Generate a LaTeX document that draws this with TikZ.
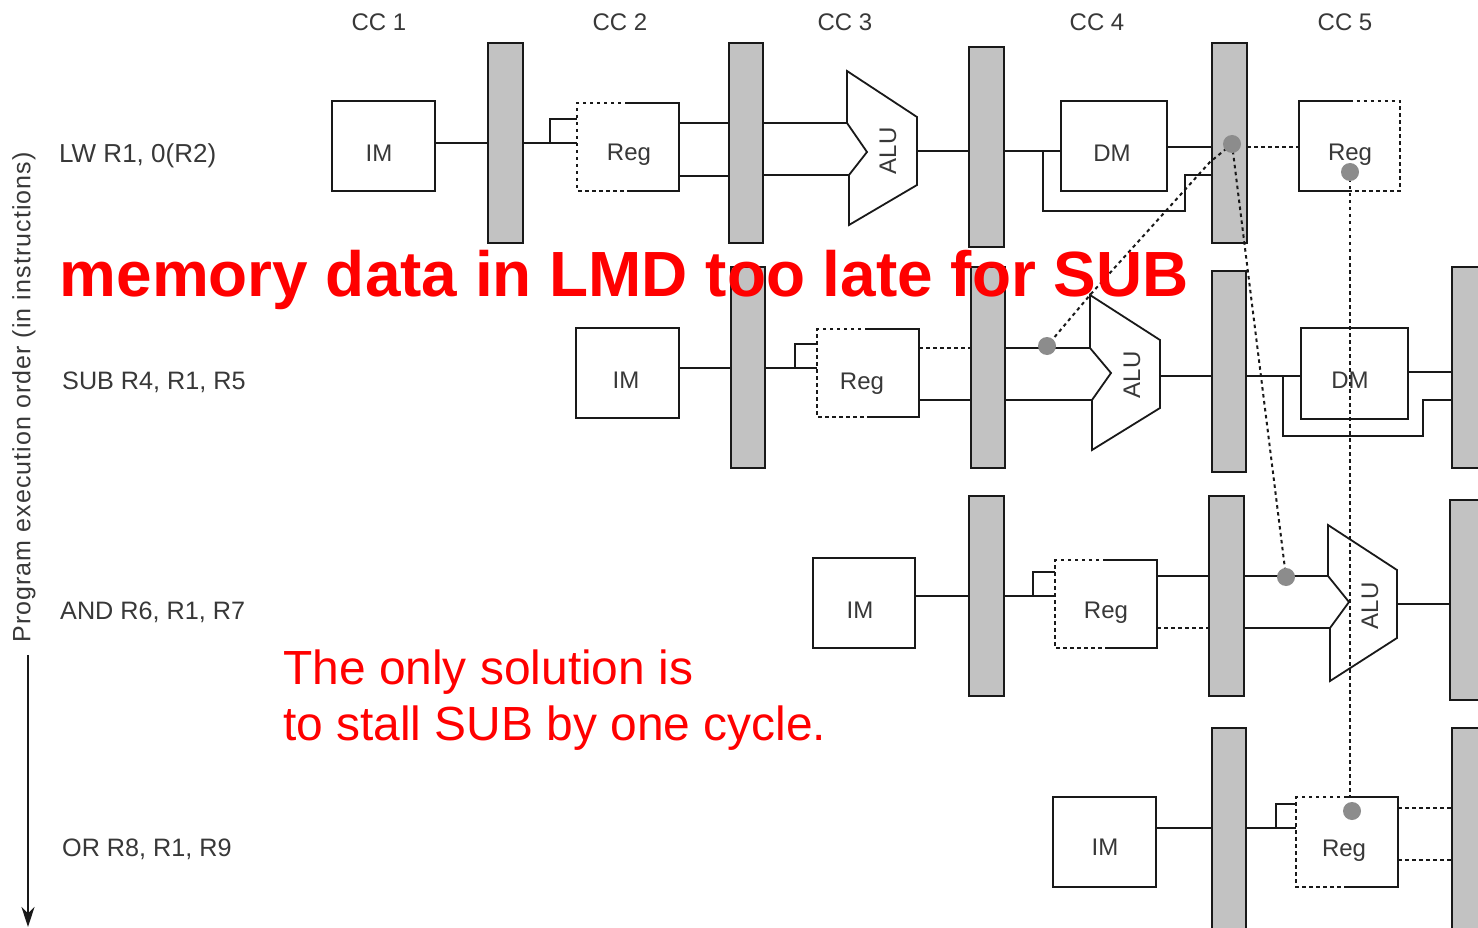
\documentclass[tikz,border=0pt]{standalone}
\usepackage{fontspec}
\usetikzlibrary{arrows.meta}
\setmainfont{Liberation Sans}
\definecolor{ink}{gray}{0.1}
\definecolor{txt}{gray}{0.22}
\definecolor{barfill}{gray}{0.76}
\definecolor{dotfill}{gray}{0.55}
\tikzset{
  wire/.style={draw=ink,line width=1.8pt},
  dots/.style={draw=ink,line width=2pt,dash pattern=on 3.5pt off 3.5pt},
  pipebar/.style={draw=ink,line width=2pt,fill=barfill,inner sep=0pt,outer sep=0pt},
  unit/.style={draw=ink,line width=1.8pt,fill=white,inner sep=0pt,outer sep=0pt},
  halfunit/.style={inner sep=0pt,outer sep=0pt},
  lbl/.style={text=txt,inner sep=0pt,font=\fontsize{24}{28}\selectfont},
  instr/.style={text=txt,inner sep=0pt,anchor=west,font=\fontsize{25.2}{28}\selectfont},
  hazard/.style={circle,fill=dotfill,inner sep=0pt,minimum size=18pt},
  redbig/.style={text=red,inner sep=0pt,anchor=base west,font=\fontsize{63.9}{70}\bfseries\selectfont},
  rednote/.style={text=red,inner sep=0pt,anchor=base west,font=\fontsize{47.9}{56}\selectfont}
}
% name, x1, y1, x2, y2
\newcommand{\pbar}[5]{\pgfmathsetmacro{\wid}{#4-#2}\pgfmathsetmacro{\hei}{#5-#3}%
  \node[pipebar,minimum width=\wid pt,minimum height=\hei pt] (#1) at ({(#2+#4)/2},{(#3+#5)/2}) {};}
\newcommand{\ubox}[6][unit]{\pgfmathsetmacro{\wid}{#5-#3}\pgfmathsetmacro{\hei}{#6-#4}%
  \node[#1,minimum width=\wid pt,minimum height=\hei pt] (#2) at ({(#3+#5)/2},{(#4+#6)/2}) {};}
% horizontal connector: style, from, to, y
\newcommand{\hwire}[4]{\draw[#1] (#2.east |- 0,#4) -- (#3.west |- 0,#4);}
% register with dashed left half
\newcommand{\regL}[1]{%
  \draw[wire] (#1.north) -- (#1.north east) -- (#1.south east) -- (#1.south);
  \draw[dots] (#1.north) -- (#1.north west) -- (#1.south west) -- (#1.south);}
% stub: source, register, y of main wire, y of stub, x of stub
\newcommand{\stub}[5]{%
  \draw[wire] (#1.east |- 0,#3) -- (#2.west |- 0,#3);
  \draw[wire] (#5,#3) -- (#5,#4) -- (#2.west |- 0,#4);}
% ALU: name, apex, points
\newcommand{\alushape}[8]{%
  \draw[wire,line join=miter] #2 -- #3 -- #4 -- #5 -- #6 -- #7 -- #8 -- cycle;}
\begin{document}
\begin{tikzpicture}[x=1pt,y=-1pt]
\clip (0,0) rectangle (1478,928);
\fill[white] (0,0) rectangle (1478,928);

% pipeline bars
\pbar{b11}{488}{43}{523}{243}
\pbar{b12}{729}{43}{763}{243}
\pbar{b13}{969}{47}{1004}{247}
\pbar{b14}{1212}{43}{1247}{243}
\pbar{b21}{731}{267}{765}{468}
\pbar{b22}{971}{267}{1005}{468}
\pbar{b23}{1212}{271}{1246}{472}
\pbar{b24}{1452}{267}{1500}{468}
\pbar{b31}{969}{496}{1004}{696}
\pbar{b32}{1209}{496}{1244}{696}
\pbar{b33}{1450}{500}{1500}{700}
\pbar{b41}{1212}{728}{1246}{950}
\pbar{b42}{1452}{728}{1500}{950}

% units
\ubox{im1}{332}{101}{435}{191}
\ubox{im2}{576}{328}{679}{418}
\ubox{im3}{813}{558}{915}{648}
\ubox{im4}{1053}{797}{1156}{887}
\ubox{dm1}{1061}{101}{1167}{191}
\ubox{dm2}{1301}{328}{1408}{419}
\ubox[halfunit]{reg1}{577}{103}{679}{191}
\ubox[halfunit]{reg2}{817}{329}{919}{417}
\ubox[halfunit]{reg3}{1055}{560}{1157}{648}
\ubox[halfunit]{reg4}{1296}{797}{1398}{887}
\ubox[halfunit]{reg5}{1299}{101}{1400}{191}
\regL{reg1}\regL{reg2}\regL{reg3}\regL{reg4}
\draw[wire] (reg5.north) -- (reg5.north west) -- (reg5.south west) -- (reg5.south);
\draw[dots] (reg5.north) -- (reg5.north east) -- (reg5.south east) -- (reg5.south);

% ALUs
\alushape{alu1}{(847,71)}{(917,117)}{(917,185)}{(849,225)}{(849,175)}{(867,152)}{(847,123)}
\alushape{alu2}{(1090,295)}{(1160,340)}{(1160,408)}{(1092,450)}{(1092,400)}{(1111,373)}{(1090,348)}
\alushape{alu3}{(1328,525)}{(1397,570)}{(1397,638)}{(1330,681)}{(1330,628)}{(1349,602)}{(1328,576)}
\coordinate (a1t) at (847,123); \coordinate (a1b) at (849,175); \coordinate (a1o) at (917,151);
\coordinate (a2t) at (1090,348); \coordinate (a2b) at (1092,400); \coordinate (a2o) at (1160,376);
\coordinate (a3t) at (1328,576); \coordinate (a3b) at (1330,628); \coordinate (a3o) at (1397,604);

% row 1 wires
\hwire{wire}{im1}{b11}{143}
\stub{b11}{reg1}{143}{119}{550}
\hwire{wire}{reg1}{b12}{123}
\hwire{wire}{reg1}{b12}{176}
\draw[wire] (b12.east |- a1t) -- (a1t);
\draw[wire] (b12.east |- a1b) -- (a1b);
\draw[wire] (a1o) -- (b13.west |- a1o);
\hwire{wire}{b13}{dm1}{151}
\draw[wire] (1043,151) -- (1043,211) -- (1185,211) -- (1185,175) -- (b14.west |- 0,175);
\hwire{wire}{dm1}{b14}{147}
\hwire{dots}{b14}{reg5}{147}

% row 2 wires
\hwire{wire}{im2}{b21}{368}
\stub{b21}{reg2}{368}{344}{795}
\hwire{dots}{reg2}{b22}{348}
\hwire{wire}{reg2}{b22}{400}
\draw[wire] (b22.east |- a2t) -- (a2t);
\draw[wire] (b22.east |- a2b) -- (a2b);
\draw[wire] (a2o) -- (b23.west |- a2o);
\hwire{wire}{b23}{dm2}{376}
\draw[wire] (1283,376) -- (1283,436) -- (1423,436) -- (1423,400) -- (b24.west |- 0,400);
\hwire{wire}{dm2}{b24}{372}

% row 3 wires
\hwire{wire}{im3}{b31}{596}
\stub{b31}{reg3}{596}{572}{1033}
\hwire{wire}{reg3}{b32}{576}
\hwire{dots}{reg3}{b32}{628}
\draw[wire] (b32.east |- a3t) -- (a3t);
\draw[wire] (b32.east |- a3b) -- (a3b);
\draw[wire] (a3o) -- (b33.west |- a3o);

% row 4 wires
\hwire{wire}{im4}{b41}{828}
\stub{b41}{reg4}{828}{804}{1276}
\hwire{dots}{reg4}{b42}{808}
\hwire{dots}{reg4}{b42}{860}

% hazard dots and dotted paths
\coordinate (d1c) at (1232,144);
\coordinate (d2c) at (1350,172);
\coordinate (d3c) at (1047,346);
\coordinate (d4c) at (1286,577);
\coordinate (d5c) at (1352,811);
\draw[dots] (d1c) -- (1210,162) -- (1090,295) -- (d3c);
\draw[dots] (d1c) -- (d4c);
\draw[dots] (d2c) -- (1350,797);
\node[hazard] (d1) at (d1c) {};
\node[hazard] (d2) at (d2c) {};
\node[hazard] (d3) at (d3c) {};
\node[hazard] (d4) at (d4c) {};
\node[hazard] (d5) at (d5c) {};

% unit labels
\node[lbl] (t1) at (379,153) {IM};
\node[lbl] (t2) at (626,380) {IM};
\node[lbl] (t3) at (860,610) {IM};
\node[lbl] (t4) at (1105,847) {IM};
\node[lbl] (t5) at (629,155) {Reg};
\node[lbl] (t6) at (862,384) {Reg};
\node[lbl] (t7) at (1106,613) {Reg};
\node[lbl] (t8) at (1344,851) {Reg};
\node[lbl] (t9) at (1350,155) {Reg};
\node[lbl] (t10) at (1112,153) {DM};
\node[lbl] (t11) at (1350,380) {DM};
\node[lbl,rotate=90] (t12) at (888,151) {ALU};
\node[lbl,rotate=90] (t13) at (1132,375) {ALU};
\node[lbl,rotate=90] (t14) at (1370,606) {ALU};

% cycles
\node[lbl] (c1) at (379,22) {CC 1};
\node[lbl] (c2) at (620,22) {CC 2};
\node[lbl] (c3) at (845,22) {CC 3};
\node[lbl] (c4) at (1097,22) {CC 4};
\node[lbl] (c5) at (1345,22) {CC 5};

% instructions
\node[instr,font=\fontsize{26}{28}\selectfont] (i1) at (59,156) {LW R1, 0(R2)};
\node[instr] (i2) at (62,382) {SUB R4, R1, R5};
\node[instr] (i3) at (60,612) {AND R6, R1, R7};
\node[instr] (i4) at (62,849) {OR R8, R1, R9};

% axis
\node[lbl,rotate=90,font=\fontsize{25}{28}\selectfont\addfontfeature{LetterSpace=4.3}] (axis) at (24,397.5) {Program execution order (in instructions)};
\draw[draw=ink,line width=2pt,-{Stealth[length=20pt,width=13pt]}] (axis.west -| 28,0) ++(0,12) -- (28,927);

% red text
\node[redbig] (title) at (59.5,296) {memory data in LMD too late for SUB};
\node[rednote] (n1) at (283,684) {The only solution is};
\node[rednote] (n2) at (283,740) {to stall SUB by one cycle.};
\end{tikzpicture}
\end{document}
